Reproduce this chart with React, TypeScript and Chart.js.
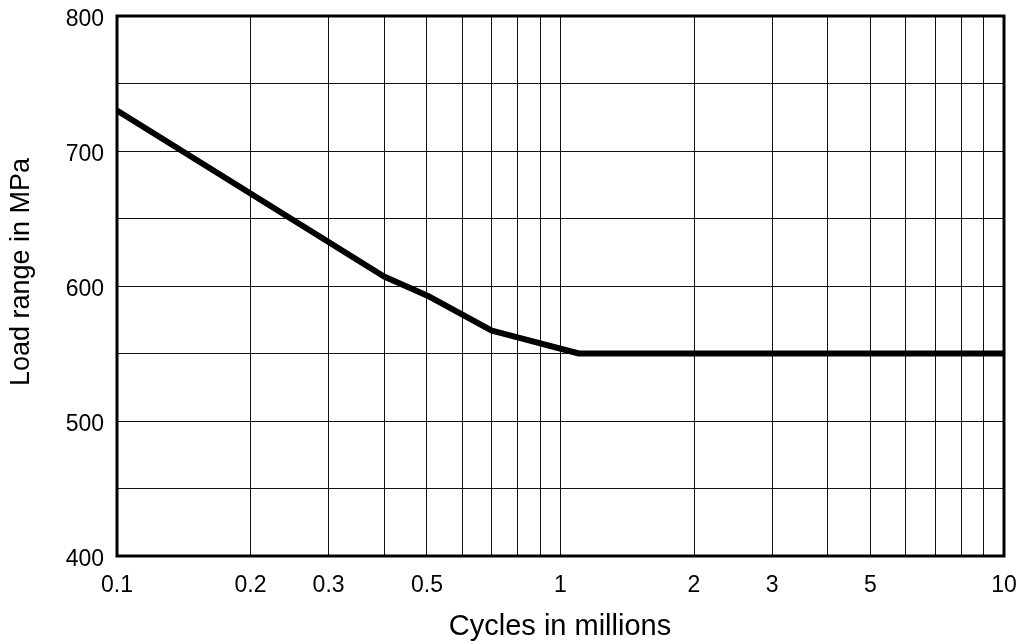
import React, { useEffect, useRef } from "react";
import { Chart, registerables } from "chart.js";

Chart.register(...registerables);

// S-N style curve: load range against number of cycles (millions)
const cycles = [0.1, 0.4, 0.5, 0.7, 0.8, 1.1, 10];
const loadRange = [730, 607, 593, 567, 562, 550, 550];

// log grid lines on the cycle axis, and which of them carry a label
const xGridValues = [0.1, 0.2, 0.3, 0.4, 0.5, 0.6, 0.7, 0.8, 0.9, 1, 2, 3, 4, 5, 6, 7, 8, 9, 10];
const xLabelValues = [0.1, 0.2, 0.3, 0.5, 1, 2, 3, 5, 10];
const yLabelValues = [400, 500, 600, 700, 800];

const xTitle = "Cycles in millions";
const yTitle = "Load range in MPa";

const FONT = '"Liberation Sans", Arial, sans-serif';

const frameAndTitles = {
  id: "frameAndTitles",
  afterDatasetsDraw(chart: any) {
    const { ctx, chartArea } = chart;
    ctx.save();
    ctx.strokeStyle = "#000";
    ctx.lineWidth = 3;
    ctx.strokeRect(
      chartArea.left,
      chartArea.top,
      chartArea.right - chartArea.left,
      chartArea.bottom - chartArea.top
    );
    ctx.restore();
  },
  afterDraw(chart: any) {
    const { ctx } = chart;
    ctx.save();
    ctx.fillStyle = "#000";
    ctx.textAlign = "center";
    ctx.textBaseline = "middle";
    ctx.font = `29px ${FONT}`;
    ctx.fillText(xTitle, 560, 627);
    ctx.translate(22, 272);
    ctx.rotate(-Math.PI / 2);
    ctx.font = `27px ${FONT}`;
    ctx.fillText(yTitle, 0, 0);
    ctx.restore();
  },
};

export default function App() {
  const ref = useRef<HTMLCanvasElement>(null);

  useEffect(() => {
    const canvas = ref.current;
    if (!canvas) return;
    const chart = new Chart(canvas, {
      type: "line",
      data: {
        datasets: [
          {
            data: cycles.map((c, i) => ({ x: c, y: loadRange[i] })),
            borderColor: "#000",
            borderWidth: 6,
            pointRadius: 0,
            tension: 0,
            fill: false,
            borderJoinStyle: "round",
          },
        ],
      },
      options: {
        animation: false,
        responsive: false,
        layout: { padding: { top: 16, right: 17, left: 0, bottom: 0 } },
        plugins: { legend: { display: false }, tooltip: { enabled: false } },
        scales: {
          x: {
            type: "logarithmic",
            min: 0.1,
            max: 10,
            afterBuildTicks: (scale: any) => {
              scale.ticks = xGridValues.map((v) => ({ value: v }));
            },
            afterFit: (scale: any) => {
              scale.height = 88;
              scale.paddingLeft = 0;
              scale.paddingRight = 0;
            },
            grid: { color: "#111", lineWidth: 1, drawTicks: false },
            border: { display: false },
            ticks: {
              autoSkip: false,
              maxRotation: 0,
              minRotation: 0,
              padding: 16,
              color: "#000",
              font: { family: FONT, size: 23 },
              callback: (v: any) => (xLabelValues.includes(Number(v)) ? String(v) : ""),
            },
          },
          y: {
            type: "linear",
            min: 400,
            max: 800,
            afterFit: (scale: any) => {
              scale.width = 117;
              scale.paddingTop = 0;
              scale.paddingBottom = 0;
            },
            grid: { color: "#111", lineWidth: 1, drawTicks: false },
            border: { display: false },
            ticks: {
              stepSize: 50,
              padding: 13,
              labelOffset: 4,
              color: "#000",
              font: { family: FONT, size: 23 },
              callback: (v: any) => (yLabelValues.includes(Number(v)) ? String(v) : ""),
            },
          },
        },
      },
      plugins: [frameAndTitles],
    });
    return () => chart.destroy();
  }, []);

  return (
    <canvas
      ref={ref}
      width={1021}
      height={644}
      style={{ display: "block", position: "absolute", left: 0, top: 0 }}
    />
  );
}
